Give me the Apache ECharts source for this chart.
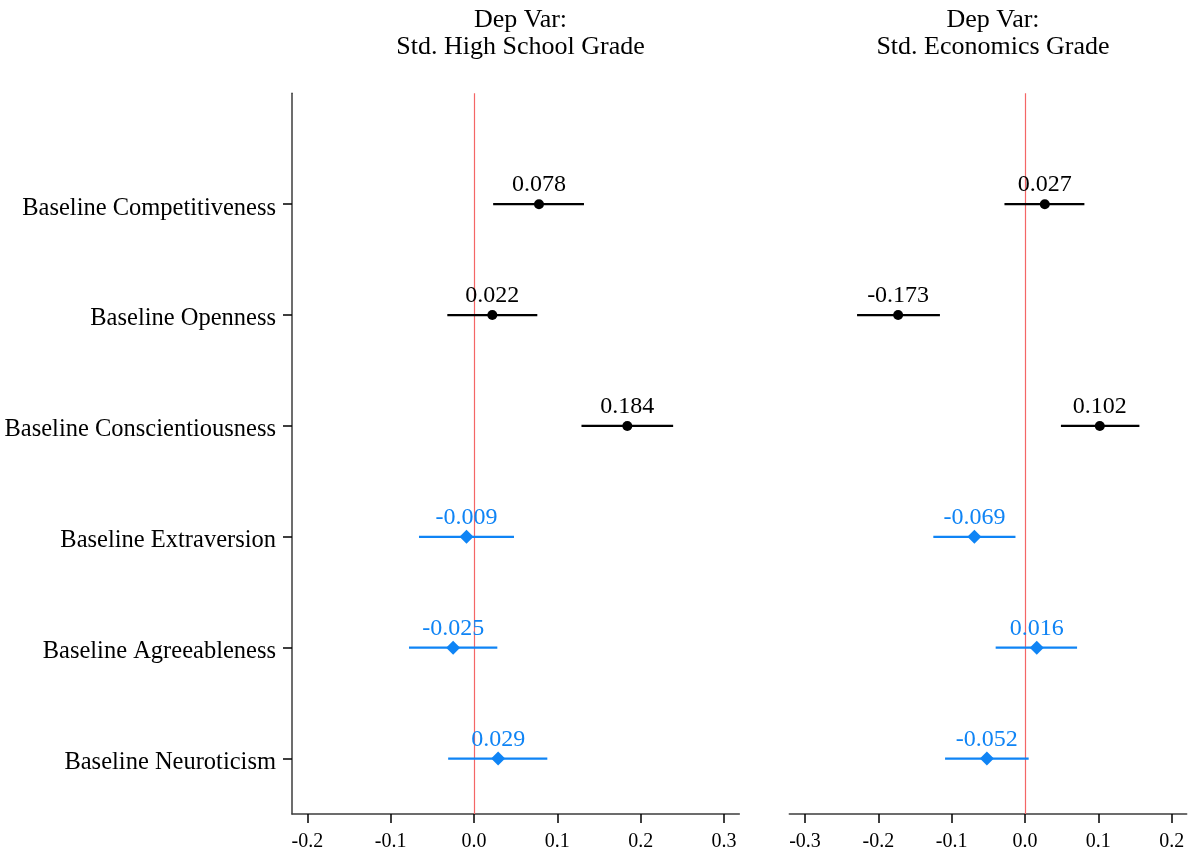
<!DOCTYPE html>
<html>
<head>
<meta charset="utf-8">
<script src="https://cdn.jsdelivr.net/npm/echarts@6/dist/echarts.min.js"></script>
<style>
  html, body { margin: 0; padding: 0; background: #fff; }
  #chart { width: 1188px; height: 852px; }
</style>
</head>
<body>
<div id="chart"></div>
<script>
// Coefficient plot: personality measures on two standardized grades
const categories = [
  'Baseline Competitiveness',
  'Baseline Openness',
  'Baseline Conscientiousness',
  'Baseline Extraversion',
  'Baseline Agreeableness',
  'Baseline Neuroticism'
];
// marker group per row: 0 = black circle, 1 = blue diamond
const rowGroup = [0, 0, 0, 1, 1, 1];

const hsCoef = [0.078, 0.022, 0.184, -0.009, -0.025, 0.029];
const hsLow  = [0.023, -0.032, 0.129, -0.066, -0.078, -0.031];
const hsHigh = [0.132, 0.076, 0.239, 0.048, 0.028, 0.088];

const ecoCoef = [0.027, -0.173, 0.102, -0.069, 0.016, -0.052];
const ecoLow  = [-0.028, -0.229, 0.049, -0.125, -0.040, -0.109];
const ecoHigh = [0.081, -0.116, 0.156, -0.013, 0.071, 0.005];

const hsTicks  = [-0.2, -0.1, 0.0, 0.1, 0.2, 0.3];
const ecoTicks = [-0.3, -0.2, -0.1, 0.0, 0.1, 0.2];

const panelTitles = ['Dep Var:\nStd. High School Grade', 'Dep Var:\nStd. Economics Grade'];

const FONT = "'Liberation Serif', 'Times New Roman', serif";
const BLACK = '#000000';
const BLUE = '#0f84f5';
const RED = '#f46666';
const AXIS = '#3c3c3c';
const groupColor = [BLACK, BLUE];
const groupSymbol = ['circle', 'diamond'];
const groupSize = [10, 14];

const chart = echarts.init(document.getElementById('chart'), null, { renderer: 'canvas' });

function xAxisFor(gridIndex, min, max, ticks) {
  return {
    gridIndex, type: 'value', min, max,
    axisLine: { show: true, onZero: false, lineStyle: { color: AXIS, width: 1.5 } },
    axisTick: { show: true, length: 9, customValues: ticks, lineStyle: { color: '#000', width: 1.5 } },
    axisLabel: {
      customValues: ticks, margin: 18, color: '#000', fontFamily: FONT, fontSize: 20,
      formatter: v => v.toFixed(1)
    },
    splitLine: { show: false }
  };
}

function yAxisFor(gridIndex, showLeft) {
  return {
    gridIndex, type: 'value', min: 0, max: 6.5, inverse: true,
    axisLine: { show: showLeft, onZero: false, lineStyle: { color: AXIS, width: 1.5 } },
    axisTick: { show: showLeft, length: 9, customValues: [1, 2, 3, 4, 5, 6], lineStyle: { color: '#000', width: 1.5 } },
    axisLabel: {
      show: showLeft, customValues: [1, 2, 3, 4, 5, 6], margin: 16,
      color: '#000', fontFamily: FONT, fontSize: 24.5,
      verticalAlign: 'top', lineHeight: 8,
      formatter: v => categories[Math.round(v) - 1] || ''
    },
    splitLine: { show: false }
  };
}

function errorBarSeries(idx, low, high) {
  return {
    type: 'custom', xAxisIndex: idx, yAxisIndex: idx, silent: true,
    data: low.map((l, i) => [l, high[i], i + 1, rowGroup[i]]),
    renderItem: (params, api) => {
      const a = api.coord([api.value(0), api.value(2)]);
      const b = api.coord([api.value(1), api.value(2)]);
      return {
        type: 'line',
        shape: { x1: a[0], y1: a[1], x2: b[0], y2: b[1] },
        style: { stroke: groupColor[api.value(3)], lineWidth: 2.2 }
      };
    },
    z: 3
  };
}

function pointSeries(idx, coef, withRefLine) {
  const s = {
    type: 'scatter', xAxisIndex: idx, yAxisIndex: idx, silent: true,
    data: coef.map((c, i) => ({
      value: [c, i + 1],
      symbol: groupSymbol[rowGroup[i]],
      symbolSize: groupSize[rowGroup[i]],
      itemStyle: { color: groupColor[rowGroup[i]], opacity: 1 },
      label: { color: groupColor[rowGroup[i]], distance: rowGroup[i] === 0 ? 2 : 0 }
    })),
    itemStyle: { opacity: 1 },
    label: {
      show: true, position: 'top',
      fontFamily: FONT, fontSize: 24,
      formatter: p => p.value[0].toFixed(3)
    },
    z: 4
  };
  if (withRefLine) {
    s.markLine = {
      silent: true, symbol: 'none', label: { show: false },
      lineStyle: { color: RED, width: 1.2, type: 'solid', opacity: 1 },
      data: [{ xAxis: 0 }],
      z: 1
    };
  }
  return s;
}

const option = {
  backgroundColor: '#ffffff',
  animation: false,
  title: panelTitles.map((t, i) => ({
    text: t,
    left: i === 0 ? 515.5 : 988,
    top: 2,
    textAlign: 'center',
    textStyle: { fontFamily: FONT, fontSize: 26, fontWeight: 'normal', color: '#000', lineHeight: 27 }
  })),
  grid: [
    { left: 292, top: 93.3, width: 447.3, height: 720.7 },
    { left: 789.3, top: 93.3, width: 397.4, height: 720.7 }
  ],
  xAxis: [
    xAxisFor(0, -0.2184, 0.3184, hsTicks),
    xAxisFor(1, -0.3214, 0.2205, ecoTicks)
  ],
  yAxis: [yAxisFor(0, true), yAxisFor(1, false)],
  series: [
    pointSeries(0, hsCoef, true),
    errorBarSeries(0, hsLow, hsHigh),
    pointSeries(1, ecoCoef, true),
    errorBarSeries(1, ecoLow, ecoHigh)
  ]
};

chart.setOption(option);
</script>
</body>
</html>
